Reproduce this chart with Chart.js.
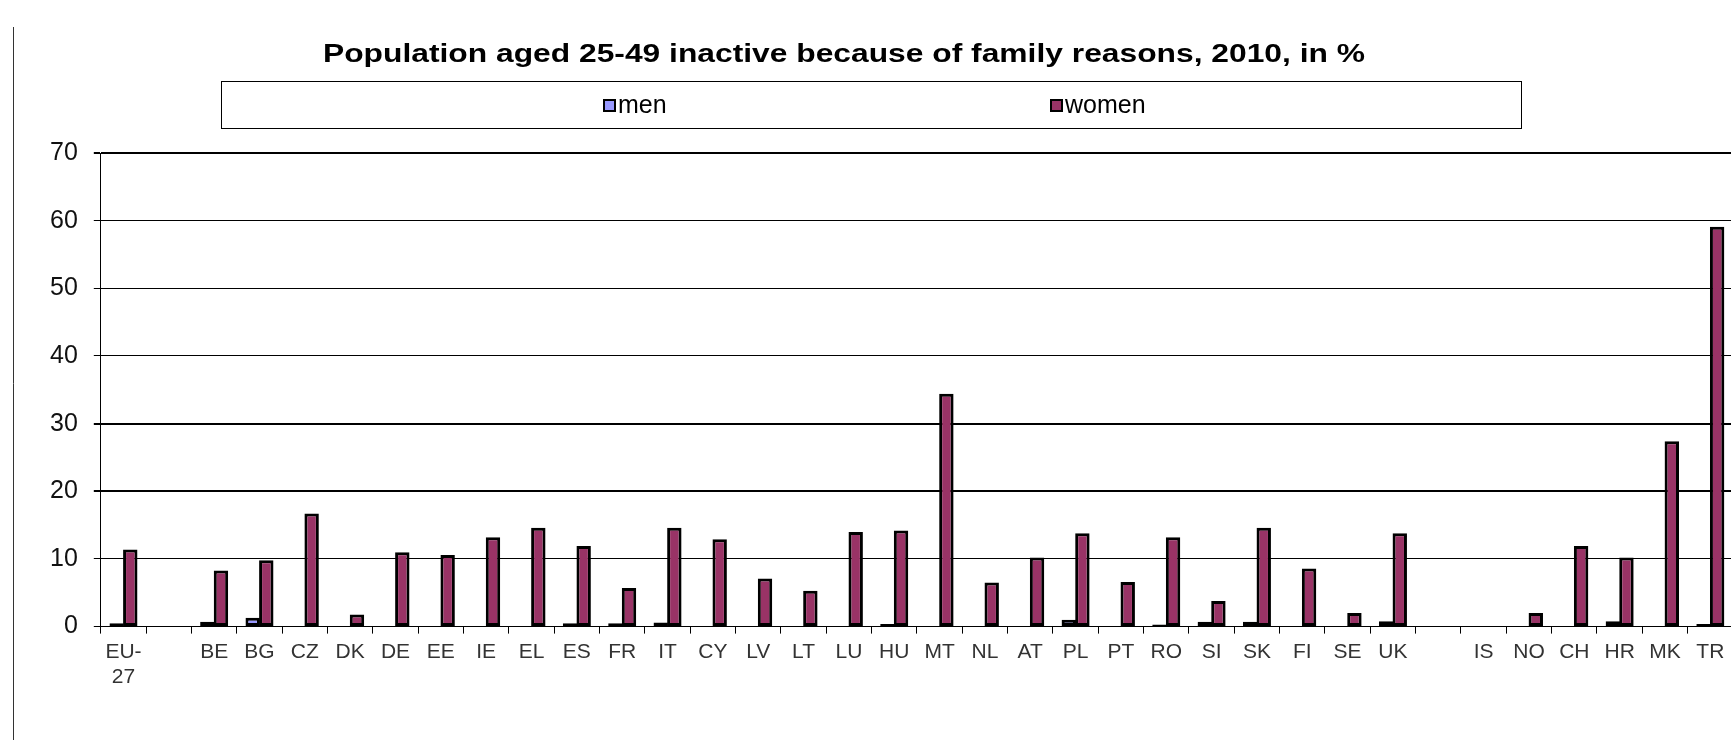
<!DOCTYPE html>
<html>
<head>
<meta charset="utf-8">
<script src="https://cdn.jsdelivr.net/npm/chart.js@4/dist/chart.umd.min.js"></script>
<style>
  html, body { margin: 0; padding: 0; background: #fff; overflow: hidden; }
  #wrap { position: relative; width: 1735px; height: 740px; }
</style>
</head>
<body>
<div id="wrap"><canvas id="myChart"></canvas></div>
<script>
// Chart data
var titleText = 'Population aged 25-49 inactive because of family reasons, 2010, in %';
var categories = [['EU-', '27'], '', 'BE', 'BG', 'CZ', 'DK', 'DE', 'EE', 'IE', 'EL', 'ES', 'FR', 'IT', 'CY',
    'LV', 'LT', 'LU', 'HU', 'MT', 'NL', 'AT', 'PL', 'PT', 'RO', 'SI', 'SK', 'FI', 'SE', 'UK', '',
    'IS', 'NO', 'CH', 'HR', 'MK', 'TR'];
var men = [0.5, null, 0.7, 1.3, 0.1, null, 0.1, null, null, null, 0.5, 0.5, 0.6, null,
    null, null, null, 0.4, null, null, null, 1.0, null, 0.3, 0.7, 0.7, null, null, 0.8, null,
    null, null, 0.1, 0.8, null, 0.4];
var women = [11.4, null, 8.3, 9.8, 16.7, 1.8, 11.0, 10.6, 13.2, 14.6, 11.9, 5.7, 14.6, 12.9,
    7.1, 5.3, 14.0, 14.2, 34.4, 6.5, 10.2, 13.8, 6.6, 13.2, 3.8, 14.6, 8.6, 2.0, 13.8, null,
    null, 2.0, 11.9, 10.2, 27.4, 59.1];
var yTicks = [0, 10, 20, 30, 40, 50, 60, 70];

var font = "'Liberation Sans', Arial, sans-serif";

// Draws the page frame line, the title and the boxed legend
var headerBox = {
    id: 'headerBox',
    afterDraw: function(chart) {
        var c = chart.ctx;
        c.save();
        // frame line on the left
        c.strokeStyle = '#333';
        c.lineWidth = 1;
        c.beginPath();
        c.moveTo(13.5, 27);
        c.lineTo(13.5, 740);
        c.stroke();

        // title - the original is stretched sideways, so scale it to the same width
        c.fillStyle = '#000';
        c.font = 'bold 25.5px ' + font;
        c.textAlign = 'left';
        c.textBaseline = 'alphabetic';
        var w0 = c.measureText(titleText).width;
        var sx = 1042 / w0;
        c.save();
        c.translate(844 - 521, 62);
        c.scale(sx, 1);
        c.fillText(titleText, 0, 0);
        c.restore();

        // legend box
        c.strokeStyle = '#000';
        c.lineWidth = 1;
        c.strokeRect(221.5, 81.5, 1300, 47);

        var itemX = [603, 1050];
        c.font = '25px ' + font;
        c.textAlign = 'left';
        chart.data.datasets.forEach(function(ds, i) {
            var x = itemX[i];
            c.fillStyle = ds.backgroundColor;
            c.fillRect(x, 99, 13, 13);
            c.strokeStyle = '#000';
            c.lineWidth = 2;
            c.strokeRect(x + 1, 100, 11, 11);
            c.fillStyle = '#000';
            c.fillText(ds.label, x + 15, 113);
        });
        c.restore();
    }
};

var ctx = document.getElementById('myChart').getContext('2d');

var myChart = new Chart(ctx, {
    type: 'bar',
    data: {
        labels: categories,
        datasets: [{
            label: 'men',
            data: men,
            backgroundColor: '#9999FF',
            borderColor: '#000',
            borderWidth: 3,
            borderSkipped: false
        }, {
            label: 'women',
            data: women,
            backgroundColor: '#993366',
            borderColor: '#000',
            borderWidth: 3,
            borderSkipped: false
        }]
    },
    options: {
        responsive: true,
        maintainAspectRatio: false,
        animation: false,
        layout: {
            padding: { top: 153, left: 34, right: 2, bottom: 44 }
        },
        datasets: {
            bar: { categoryPercentage: 0.6, barPercentage: 1.06 }
        },
        plugins: {
            legend: { display: false },
            title: { display: false },
            tooltip: { enabled: false }
        },
        scales: {
            x: {
                grid: {
                    display: true,
                    drawOnChartArea: false,
                    drawTicks: true,
                    tickLength: 7,
                    color: '#000',
                    lineWidth: 1
                },
                border: { display: true, color: '#000', width: 1 },
                ticks: {
                    autoSkip: false,
                    maxRotation: 0,
                    padding: 6,
                    color: '#333',
                    font: { family: font, size: 21 }
                }
            },
            y: {
                min: 0,
                max: 70,
                afterBuildTicks: function(axis) {
                    axis.ticks = yTicks.map(function(v) { return { value: v }; });
                },
                grid: {
                    color: '#000',
                    tickLength: 7,
                    lineWidth: function(c) {
                        var v = c.tick ? c.tick.value : 0;
                        return (v === 20 || v === 30 || v === 70) ? 2 : 1;
                    }
                },
                border: { display: true, color: '#000', width: 1 },
                ticks: {
                    padding: 16,
                    color: '#111',
                    font: { family: font, size: 25 }
                }
            }
        }
    },
    plugins: [headerBox]
});
</script>
</body>
</html>
